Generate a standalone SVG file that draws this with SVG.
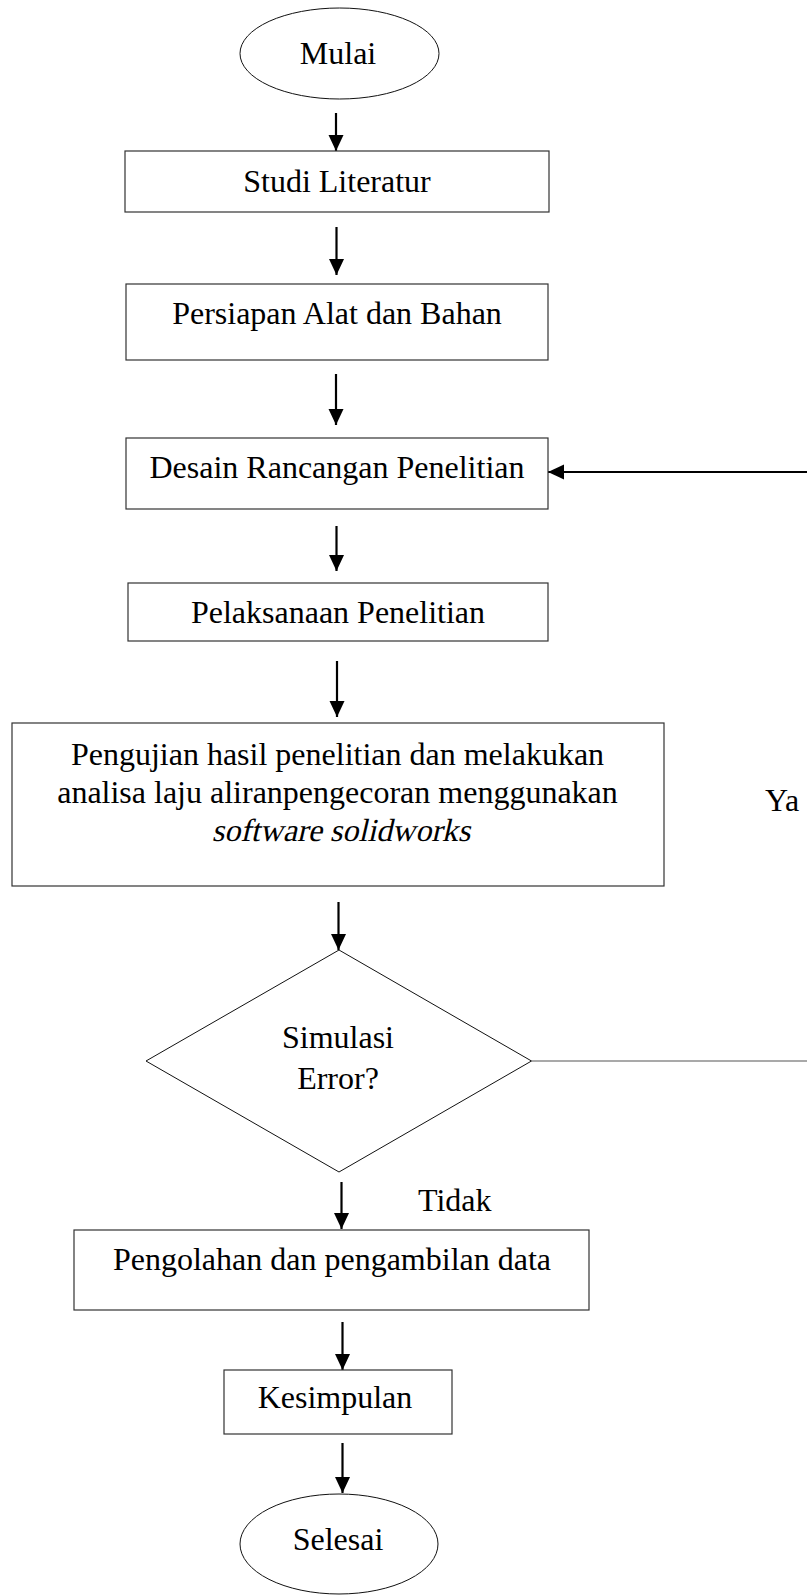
<svg xmlns="http://www.w3.org/2000/svg" width="807" height="1596" viewBox="0 0 807 1596">
<style>
.box{fill:#fff;stroke:#333;stroke-width:1.2}
.term{fill:#fff;stroke:#111;stroke-width:1}
.dec{fill:#fff;stroke:#111;stroke-width:1}
.t{font-family:"Liberation Serif","Times New Roman",serif;font-size:32px;fill:#000;text-anchor:middle}
.tl{font-family:"Liberation Serif","Times New Roman",serif;font-size:32px;fill:#000}
.arr{stroke:#000;stroke-width:2.2;fill:none;marker-end:url(#ah)}
.thin{stroke:#555;stroke-width:1.2;fill:none}
</style>
<defs>
<marker id="ah" markerUnits="userSpaceOnUse" markerWidth="17" markerHeight="16" refX="16" refY="8" orient="auto">
<path d="M0,0.5 L16,8 L0,15.5 z" fill="#000"/>
</marker>
</defs>
<rect width="807" height="1596" fill="#fff"/>
<g id="connectors">
<line class="arr" x1="336" y1="113" x2="336" y2="151"/>
<line class="arr" x1="336.5" y1="227" x2="336.5" y2="275"/>
<line class="arr" x1="336" y1="374" x2="336" y2="425"/>
<line class="arr" x1="807" y1="472" x2="548" y2="472"/>
<line class="arr" x1="336.5" y1="526" x2="336.5" y2="571"/>
<line class="arr" x1="337" y1="661" x2="337" y2="717"/>
<line class="arr" x1="338.5" y1="902" x2="338.5" y2="950"/>
<line class="thin" x1="531.5" y1="1061" x2="807" y2="1061"/>
<line class="arr" x1="341.5" y1="1182" x2="341.5" y2="1229"/>
<line class="arr" x1="342.5" y1="1322" x2="342.5" y2="1370"/>
<line class="arr" x1="342.5" y1="1443" x2="342.5" y2="1493"/>
<text class="tl" x="765" y="811">Ya</text>
<text class="tl" x="418" y="1211">Tidak</text>
</g>
<g id="mulai">
<ellipse class="term" cx="339.5" cy="53.5" rx="99.5" ry="45.5"/>
<text class="t" x="338" y="64">Mulai</text>
</g>
<g id="studi">
<rect class="box" x="125" y="151" width="424" height="61"/>
<text class="t" x="337" y="192">Studi Literatur</text>
</g>
<g id="persiapan">
<rect class="box" x="126" y="284" width="422" height="76"/>
<text class="t" x="337" y="324">Persiapan Alat dan Bahan</text>
</g>
<g id="desain">
<rect class="box" x="126" y="438" width="422" height="71"/>
<text class="t" x="337" y="478">Desain Rancangan Penelitian</text>
</g>
<g id="pelaksanaan">
<rect class="box" x="128" y="583" width="420" height="58"/>
<text class="t" x="338" y="622.5">Pelaksanaan Penelitian</text>
</g>
<g id="pengujian">
<rect class="box" x="12" y="723" width="652" height="163"/>
<text class="t" x="337.5" y="765">Pengujian hasil penelitian dan melakukan</text>
<text class="t" x="337.5" y="803">analisa laju aliranpengecoran menggunakan</text>
<text class="t" transform="translate(341,841) skewX(-13)" x="0" y="0">software solidworks</text>
</g>
<g id="simulasi">
<polygon class="dec" points="339,950 531.5,1061 339,1172 146,1061"/>
<text class="t" x="338" y="1048">Simulasi</text>
<text class="t" x="338" y="1089">Error?</text>
</g>
<g id="pengolahan">
<rect class="box" x="74" y="1230" width="515" height="80"/>
<text class="t" x="332" y="1270">Pengolahan dan pengambilan data</text>
</g>
<g id="kesimpulan">
<rect class="box" x="224" y="1370" width="228" height="64"/>
<text class="t" x="335" y="1408">Kesimpulan</text>
</g>
<g id="selesai">
<ellipse class="term" cx="339" cy="1544" rx="99" ry="50"/>
<text class="t" x="338" y="1550">Selesai</text>
</g>
</svg>
